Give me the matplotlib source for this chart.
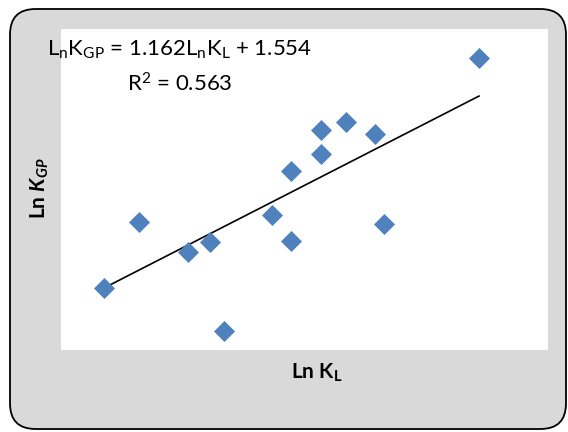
import matplotlib
matplotlib.use("Agg")
import matplotlib.pyplot as plt
from matplotlib.patches import FancyBboxPatch
import numpy as np

plt.rcParams['font.family'] = ['Lato', 'DejaVu Sans']
plt.rcParams['mathtext.fontset'] = 'custom'
plt.rcParams['mathtext.rm'] = 'Lato'
plt.rcParams['mathtext.it'] = 'Lato:italic'
plt.rcParams['mathtext.bf'] = 'Lato:bold'
plt.rcParams['mathtext.bfit'] = 'Lato:bold:italic'

# Data
ln_kl = [0.50, 0.64, 0.836, 0.924, 0.978, 1.172, 1.248, 1.248, 1.368, 1.368, 1.468, 1.584, 1.62, 2.00]
ln_kgp = [2.135, 2.734, 2.462, 2.553, 1.745, 2.798, 3.197, 2.562, 3.570, 3.352, 3.642, 3.533, 2.716, 4.223]
slope = 1.162
intercept = 1.554
r2 = 0.563

W, H = 568, 432
fig = plt.figure(figsize=(W / 100, H / 100), dpi=100)
fig.patch.set_facecolor('white')

# Outer rounded gray frame
frame = FancyBboxPatch((10 / W, 3 / H), 556 / W, 420 / H,
                       boxstyle="round,pad=0,rounding_size=0.045",
                       transform=fig.transFigure, facecolor='#d9d9d9',
                       edgecolor='black', linewidth=1.3, mutation_aspect=W / H,
                       zorder=-5)
fig.patches.append(frame)

ax = fig.add_axes([61 / W, 1 - 350 / H, 487 / W, 321 / H])
ax.set_zorder(2)
ax.set_facecolor('white')
for s in ax.spines.values():
    s.set_visible(False)
ax.set_xticks([])
ax.set_yticks([])
ax.set_xlim(0.328, 2.276)
ax.set_ylim(1.572, 4.487)

ax.scatter(ln_kl, ln_kgp, marker='D', s=115, color='#4F81BD', zorder=3, linewidths=0)
xs = np.array([min(ln_kl), max(ln_kl)])
ax.plot(xs, slope * xs + intercept, color='black', linewidth=1.2, zorder=2)

t1 = fig.text(180 / W, 1 - 50 / H,
              r'L$_\mathregular{n}$K$_\mathregular{GP}$ = %.3fL$_\mathregular{n}$K$_\mathregular{L}$ + %.3f' % (slope, intercept),
              ha='center', va='center', fontsize=16, zorder=10)
t2 = fig.text(180 / W, 1 - 84 / H, r'R$^\mathregular{2}$ = %.3f' % r2,
              ha='center', va='center', fontsize=16, zorder=10)

fig.text(317 / W, 1 - 373 / H, r'Ln K$_\mathbf{L}$', ha='center', va='center',
         fontsize=15, fontweight='bold')
fig.text(40 / W, 1 - 188 / H, r'Ln $\mathbfit{K}_{\mathbfit{GP}}$', ha='center', va='center',
         fontsize=15, fontweight='bold', rotation=90)

fig.savefig('out.png', dpi=100)
